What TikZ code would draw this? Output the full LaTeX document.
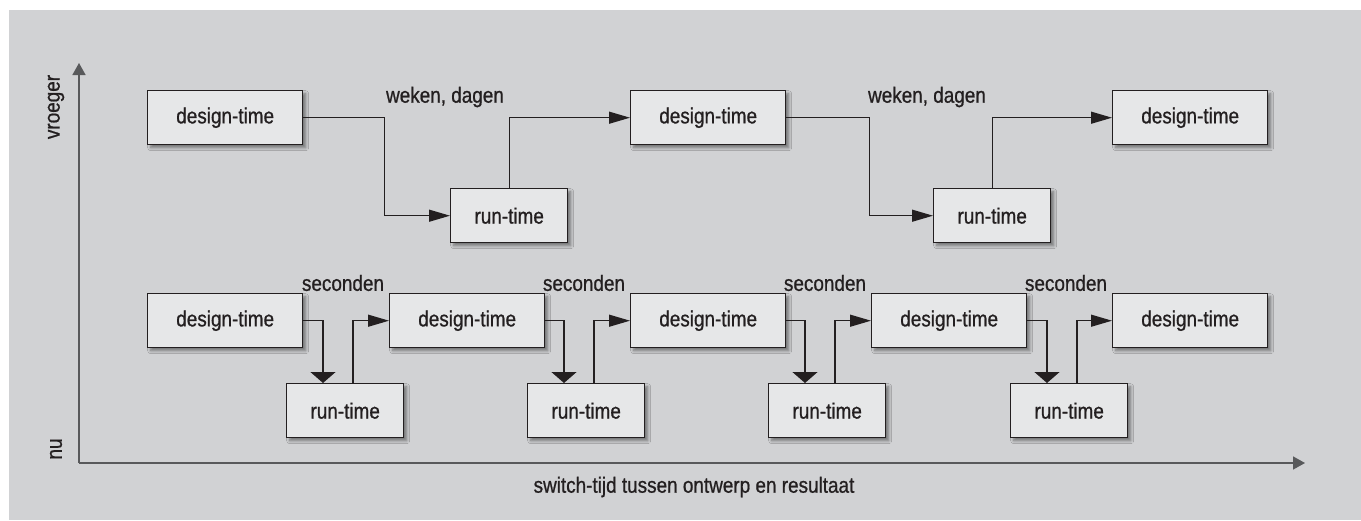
\documentclass[tikz,border=0pt]{standalone}
\usepackage{fontspec}
\setmainfont{Liberation Sans}[FakeStretch=0.86,FakeBold=0.8]
\usetikzlibrary{arrows.meta,shadows.blur,calc}
\definecolor{bggray}{HTML}{D1D2D4}
\definecolor{boxfill}{HTML}{E6E7E8}
\definecolor{ink}{HTML}{231F20}
\definecolor{axisgray}{HTML}{58595B}
\tikzset{
  box/.style={draw=ink, fill=boxfill, line width=1.4pt, anchor=north west,
    minimum height=54pt, inner sep=0pt, text=ink, font=\fontsize{22pt}{24pt}\selectfont,
    blur shadow={shadow xshift=3pt, shadow yshift=-3pt, shadow blur radius=3pt, shadow opacity=45}},
  dbox/.style={box, minimum width=155pt},
  rbox/.style={box, minimum width=117pt},
  harr/.style={draw=ink, line width=1.3pt, -{Triangle[length=21pt,width=12pt]}},
  varr/.style={draw=ink, line width=1.3pt, -{Triangle[length=11pt,width=25pt]}},
  axis/.style={draw=axisgray, line width=1.6pt, -{Triangle[length=12pt,width=13pt]}},
  lbl/.style={text=ink, font=\fontsize{22pt}{24pt}\selectfont, inner sep=0pt},
}
\begin{document}
\begin{tikzpicture}[x=1pt, y=-1pt]
\useasboundingbox (0,0) rectangle (1361,520);
\fill[bggray] (9,10) rectangle (1361,520);

% axes
\coordinate (O) at (79,463);
\coordinate (ytop) at (79,63);
\coordinate (xend) at (1305,463);
\draw[axis] (O) -- (ytop);
\draw[axis] (O) -- (xend);
\node[lbl, rotate=90] (vroeger) at (56,107) {vroeger};
\node[lbl, rotate=90] (nu) at (56,449) {nu};
\node[lbl] (xlabel) at (694,487) {switch-tijd tussen ontwerp en resultaat};

% top row
\node[dbox] (D1) at (147,90) {design-time};
\node[rbox] (R1) at (450,188) {run-time};
\node[dbox] (D2) at (630,90) {design-time};
\node[rbox] (R2) at (933,188) {run-time};
\node[dbox] (D3) at (1112,90) {design-time};

\draw[harr] (D1.east) -- ++(81,0) |- (R1.west);
\draw[harr] (R1.north) |- (D2.west);
\draw[harr] (D2.east) -- ++(83,0) |- (R2.west);
\draw[harr] (R2.north) |- (D3.west);

\node[lbl] (w1) at (445,97) {weken, dagen};
\node[lbl] (w2) at (927,97) {weken, dagen};

% bottom row
\foreach \i/\x in {1/147,2/389,3/630,4/871,5/1112}{
  \node[dbox] (B\i) at (\x,293) {design-time};
}
\foreach \i/\x in {1/286,2/527,3/768,4/1010}{
  \node[rbox] (S\i) at (\x,383) {run-time};
}
\foreach \i/\j/\sx in {1/2/343,2/3/584,3/4/825,4/5/1066}{
  \draw[varr] (B\i.east) -| ($(S\i.north west)+(37,0)$);
  \draw[harr] ($(S\i.north west)+(67,0)$) |- (B\j.west);
  \node[lbl] (sec\i) at (\sx,283) {seconden};
}
\end{tikzpicture}
\end{document}
